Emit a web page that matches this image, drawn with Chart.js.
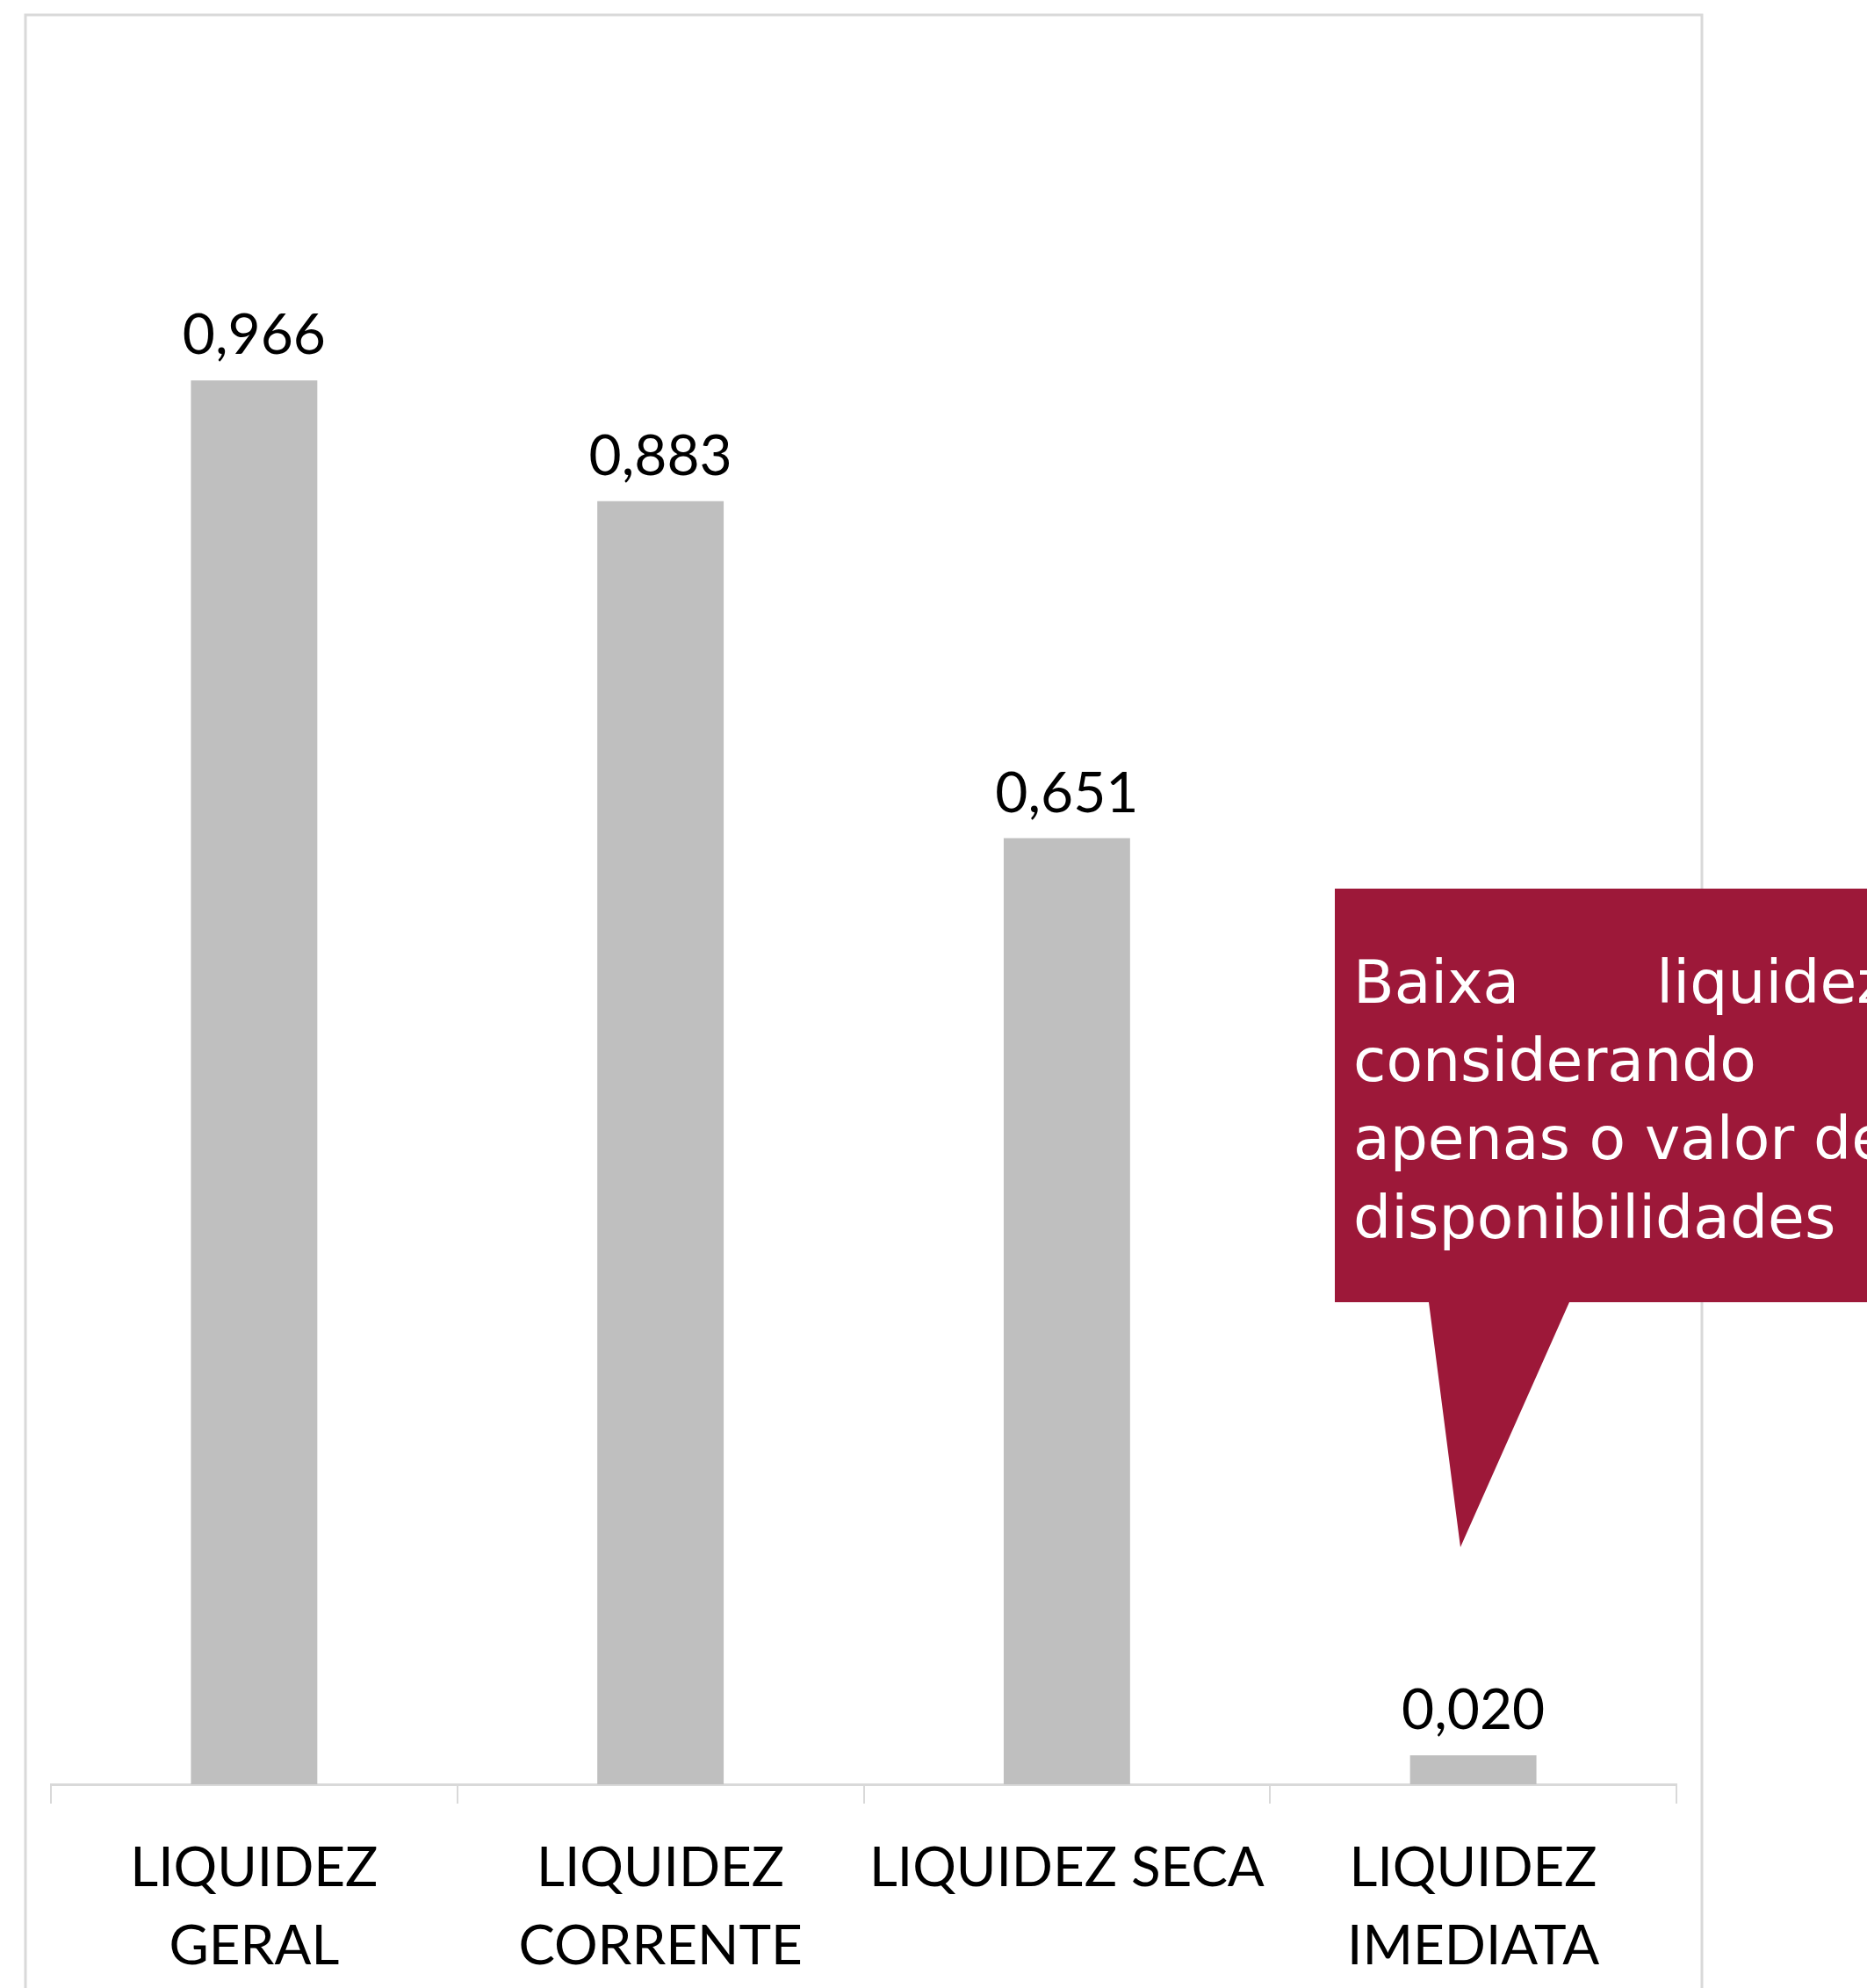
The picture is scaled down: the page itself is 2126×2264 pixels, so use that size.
<!DOCTYPE html>
<html>
<head>
<meta charset="utf-8">
<script src="https://cdn.jsdelivr.net/npm/chart.js@4.4.1/dist/chart.umd.min.js"></script>
<style>
  html, body { margin: 0; padding: 0; background: #fff; overflow: hidden; }
  canvas { display: block; }
</style>
</head>
<body>
<canvas id="liqChart" width="2126" height="2264"></canvas>
<script>
// data
const categories = [
  ["LIQUIDEZ", "GERAL"],
  ["LIQUIDEZ", "CORRENTE"],
  "LIQUIDEZ SECA",
  ["LIQUIDEZ", "IMEDIATA"]
];
const values = [0.966, 0.883, 0.651, 0.020];
const valueLabels = ["0,966", "0,883", "0,651", "0,020"];
const calloutLines = ["Baixa liquidez", "considerando", "apenas o valor de", "disponibilidades"];

// frame around the whole chart
const framePlugin = {
  id: "frame",
  beforeDraw(chart) {
    const ctx = chart.ctx;
    ctx.save();
    ctx.strokeStyle = "#d9d9d9";
    ctx.lineWidth = 3;
    ctx.strokeRect(29, 17, 1909, 2400);
    ctx.restore();
  }
};

// numbers above bars
const valueLabelPlugin = {
  id: "valueLabels",
  afterDatasetsDraw(chart) {
    const ctx = chart.ctx;
    const meta = chart.getDatasetMeta(0);
    ctx.save();
    ctx.font = "64px Lato";
    ctx.fillStyle = "#000";
    ctx.textAlign = "center";
    ctx.textBaseline = "alphabetic";
    meta.data.forEach((bar, i) => {
      ctx.fillText(valueLabels[i], bar.x, bar.y - 30);
    });
    ctx.restore();
  }
};

// red speech bubble
const calloutPlugin = {
  id: "callout",
  afterDraw(chart) {
    const ctx = chart.ctx;
    ctx.save();
    ctx.fillStyle = "#9d1839";
    ctx.beginPath();
    ctx.moveTo(1520, 1012);
    ctx.lineTo(2200, 1012);
    ctx.lineTo(2200, 1483);
    ctx.lineTo(1787, 1483);
    ctx.lineTo(1663, 1762);
    ctx.lineTo(1627, 1483);
    ctx.lineTo(1520, 1483);
    ctx.closePath();
    ctx.fill();

    ctx.fillStyle = "#fff";
    ctx.font = "68px 'DejaVu Sans'";
    ctx.textBaseline = "alphabetic";
    ctx.textAlign = "left";
    const left = 1541;
    const right = 2150;
    const baselines = [1142, 1231, 1320, 1410];
    calloutLines.forEach((line, i) => {
      const words = line.split(" ");
      const isLast = i === calloutLines.length - 1;
      if (words.length < 2 || isLast) {
        ctx.fillText(line, left, baselines[i]);
        return;
      }
      const widths = words.map((w) => ctx.measureText(w).width);
      const total = widths.reduce((a, b) => a + b, 0);
      const space = ctx.measureText(" ").width;
      const gap = Math.max(space, (right - left - total) / (words.length - 1));
      let x = left;
      words.forEach((w, j) => {
        ctx.fillText(w, x, baselines[i]);
        x += widths[j] + gap;
      });
    });
    ctx.restore();
  }
};

const ctx = document.getElementById("liqChart").getContext("2d");
const liqChart = new Chart(ctx, {
  type: "bar",
  data: {
    labels: categories,
    datasets: [
      {
        data: values,
        backgroundColor: "#bfbfbf",
        borderWidth: 0,
        categoryPercentage: 1,
        barPercentage: 0.311
      }
    ]
  },
  options: {
    responsive: false,
    animation: false,
    layout: {
      padding: { left: 58, right: 217, top: 46, bottom: 0 }
    },
    plugins: {
      legend: { display: false },
      tooltip: { enabled: false }
    },
    scales: {
      x: {
        afterFit(scale) {
          scale.height = 232;
        },
        grid: {
          offset: true,
          drawOnChartArea: false,
          drawTicks: true,
          tickLength: 22,
          color: "#d9d9d9",
          lineWidth: 2
        },
        border: { color: "#d9d9d9", width: 3 },
        ticks: {
          padding: 29,
          maxRotation: 0,
          autoSkip: false,
          color: "#000",
          font: { family: "Lato", size: 62, lineHeight: 1.44 }
        }
      },
      y: {
        display: false,
        min: 0,
        max: 1.2
      }
    }
  },
  plugins: [framePlugin, valueLabelPlugin, calloutPlugin]
});
</script>
</body>
</html>
